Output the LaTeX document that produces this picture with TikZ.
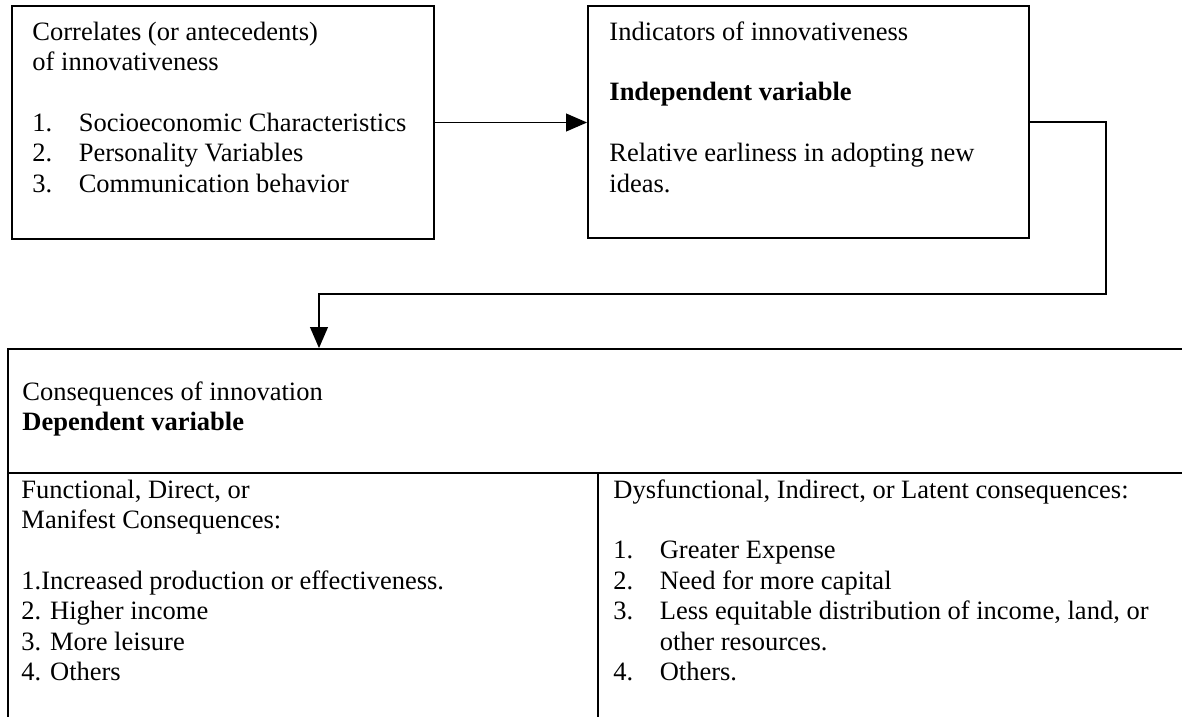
\documentclass[tikz,border=0pt]{standalone}
\usepackage{fontspec}
\setmainfont{Liberation Serif}
\usetikzlibrary{arrows.meta,positioning,fit}
\newcommand{\numitem}[2]{\makebox[21pt][l]{#1}#2}

\begin{document}
\begin{tikzpicture}[
    x=0.4528pt, y=-0.4528pt,
    font=\fontsize{12pt}{13.8pt}\selectfont,
    framebox/.style={draw=black, line width=0.8pt, inner sep=0pt},
    boxtext/.style={anchor=base west, inner sep=0pt},
    flow/.style={draw=black, line width=0.8pt, -{Triangle[length=9.5pt, width=8pt]}}
]
  \useasboundingbox (0,0) rectangle (1182,717);
  \clip (0,0) rectangle (1182,717);

  % -------------------------------------------------------------
  % UPPER ROW: CORRELATES -> INDICATORS
  % -------------------------------------------------------------
  \node[framebox, fit={(12,6) (434,239)}] (corr) {};
  \node[framebox, fit={(588,6) (1029,238)}] (indic) {};

  \node[boxtext] (corr_txt) at (32,40) {\begin{tabular}[t]{@{}l@{}}
    Correlates (or antecedents)\\
    of innovativeness\\
    \\
    \numitem{1.}{Socioeconomic Characteristics}\\
    \numitem{2.}{Personality Variables}\\
    \numitem{3.}{Communication behavior}
  \end{tabular}};

  \node[boxtext] (indic_txt) at (609,40) {\begin{tabular}[t]{@{}l@{}}
    Indicators of innovativeness\\
    \\
    \textbf{Independent variable}\\
    \\
    Relative earliness in adopting new\\
    ideas.
  \end{tabular}};

  % -------------------------------------------------------------
  % LOWER TABLE: CONSEQUENCES
  % -------------------------------------------------------------
  \node[framebox, fit={(8,349) (1200,473)}] (cons) {};
  \node[framebox, fit={(8,473) (598,760)}] (func) {};
  \node[framebox, fit={(598,473) (1200,760)}] (dysf) {};

  \node[boxtext] (cons_txt) at (22,400) {\begin{tabular}[t]{@{}l@{}}
    Consequences of innovation\\
    \textbf{Dependent variable}
  \end{tabular}};

  \node[boxtext] (func_txt) at (21,498) {\begin{tabular}[t]{@{}l@{}}
    Functional, Direct, or\\
    Manifest Consequences:\\
    \\
    1.Increased production or effectiveness.\\
    2. Higher income\\
    3. More leisure\\
    4. Others
  \end{tabular}};

  \node[boxtext] (dysf_txt) at (613,498) {\begin{tabular}[t]{@{}l@{}}
    Dysfunctional, Indirect, or Latent consequences:\\
    \\
    \numitem{1.}{Greater Expense}\\
    \numitem{2.}{Need for more capital}\\
    \numitem{3.}{Less equitable distribution of income, land, or}\\
    \numitem{}{other resources.}\\
    \numitem{4.}{Others.}
  \end{tabular}};

  % connectors
  \coordinate (bend) at (1106,294);
  \coordinate (drop) at (319,294);
  \draw[flow] (corr.east) -- (corr.east -| indic.west);
  \draw[flow] (indic.east) -| (bend) -- (drop) -- (drop |- cons.north);

\end{tikzpicture}
\end{document}
